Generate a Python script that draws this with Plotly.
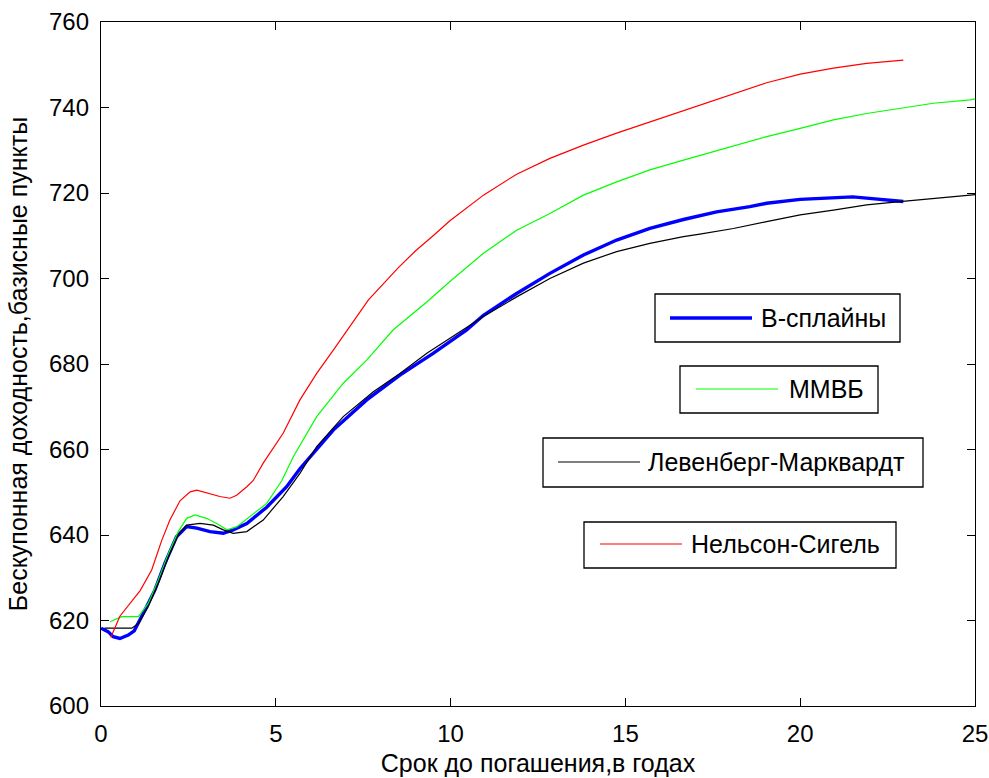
import plotly.graph_objects as go

# Бескупонная доходность (базисные пункты) по сроку до погашения (годы)
bspline_t = [0.0, 0.2, 0.35, 0.54, 0.78, 0.95, 1.21, 1.54, 1.83, 2.16, 2.45, 2.74,
             3.12, 3.5, 3.78, 4.17, 4.74, 5.31, 5.69, 6.65, 7.6, 8.55, 9.5, 10.46,
             10.94, 11.89, 12.84, 13.8, 14.75, 15.7, 16.66, 17.61, 18.56, 19.04,
             20.0, 20.95, 21.5, 21.9, 22.95]
bspline_v = [618.2, 617.4, 616.2, 615.8, 616.6, 617.6, 621.7, 627.1, 633.4, 639.6,
             642.0, 641.6, 640.8, 640.4, 641.2, 642.7, 646.5, 651.3, 655.5, 664.6,
             671.6, 677.4, 682.5, 688.0, 691.4, 696.5, 701.2, 705.5, 709.0, 711.7,
             713.8, 715.6, 716.8, 717.6, 718.5, 719.0, 719.1, 718.8, 718.0]

micex_t = [0.26, 0.59, 1.07, 1.35, 1.64, 1.93, 2.21, 2.45, 2.69, 3.02, 3.31, 3.6,
           3.88, 4.26, 4.74, 5.17, 5.5, 6.17, 6.93, 7.6, 8.36, 9.32, 9.98, 10.94,
           11.89, 12.84, 13.8, 14.75, 15.7, 16.66, 17.61, 18.56, 19.04, 20.0,
           20.95, 21.9, 22.85, 23.81, 24.86, 25.0]
micex_v = [619.7, 620.9, 620.9, 624.0, 629.5, 635.7, 640.8, 643.9, 644.7, 643.9,
           642.7, 641.2, 641.9, 644.3, 647.4, 652.7, 658.3, 667.7, 675.5, 680.9,
           688.0, 694.5, 699.3, 705.9, 711.3, 715.2, 719.5, 722.6, 725.4, 727.7,
           729.9, 732.1, 733.2, 735.1, 737.1, 738.6, 739.8, 741.0, 741.8, 742.0]

lm_t = [0.1, 0.88, 1.07, 1.35, 1.64, 1.93, 2.21, 2.45, 2.83, 3.21, 3.5, 3.78, 4.17,
        4.64, 5.21, 5.69, 6.17, 6.93, 7.79, 8.55, 9.32, 9.98, 10.94, 11.89, 12.84,
        13.8, 14.75, 15.7, 16.66, 17.13, 18.09, 19.04, 20.0, 20.95, 21.9, 22.85,
        23.81, 24.86, 25.0]
lm_v = [618.2, 618.2, 619.3, 623.2, 628.7, 634.9, 640.0, 642.3, 642.7, 642.3,
        641.2, 640.4, 640.8, 643.5, 649.0, 654.4, 660.7, 667.7, 673.5, 677.8,
        682.5, 686.0, 691.1, 695.7, 700.0, 703.6, 706.3, 708.2, 709.8, 710.4,
        711.7, 713.3, 714.9, 716.0, 717.2, 718.0, 718.8, 719.5, 719.6]

ns_t = [0.28, 0.54, 1.12, 1.45, 1.74, 1.97, 2.26, 2.55, 2.74, 3.06, 3.4, 3.69,
        3.88, 4.17, 4.35, 4.64, 5.21, 5.69, 6.17, 6.65, 7.12, 7.65, 8.5, 9.0, 9.5,
        9.98, 10.94, 11.89, 12.84, 13.8, 14.75, 15.7, 16.66, 17.13, 18.09, 19.04,
        20.0, 20.95, 21.9, 22.95]
ns_v = [616.0, 621.0, 627.0, 631.8, 638.8, 643.5, 648.0, 650.1, 650.5, 649.8,
        649.0, 648.6, 649.3, 651.3, 652.7, 656.8, 663.8, 671.6, 677.8, 683.3,
        688.7, 695.0, 702.5, 706.5, 710.0, 713.5, 719.5, 724.4, 728.1, 731.2,
        734.0, 736.6, 739.3, 740.6, 743.2, 745.8, 747.8, 749.2, 750.3, 751.1]

series_names = ["B-сплайны", "ММВБ", "Левенберг-Марквардт", "Нельсон-Сигель"]
series_colors = ["#0000FF", "#00FF00", "#000000", "#FF0000"]
series_widths = [3.4, 1.2, 1.2, 1.2]
series_t = [bspline_t, micex_t, lm_t, ns_t]
series_v = [bspline_v, micex_v, lm_v, ns_v]

x_ticks = [0, 5, 10, 15, 20, 25]
y_ticks = [600, 620, 640, 660, 680, 700, 720, 740, 760]

FONT = "Liberation Sans, Arial, sans-serif"

fig = go.Figure()
for t, v, name, color, w in zip(series_t, series_v, series_names, series_colors, series_widths):
    fig.add_trace(go.Scatter(x=t, y=v, mode="lines", name=name,
                             line=dict(color=color, width=w), showlegend=False))

# Plot area in pixels, used to place the separate legend boxes
W, H = 989, 778
L, R, T, B = 101, 14, 22, 72
pw, ph = W - L - R, H - T - B


def px(x):
    return (x - L) / pw


def py(y):
    return (H - B - y) / ph


# Each legend entry sits in its own framed box:
# (box left, box top, box right, box bottom, line start, line end, line y, text x)
legend_boxes = [
    (655, 294, 900, 342, 670, 752, 318, 759),
    (680, 366, 878, 413, 696, 778, 389, 787),
    (543, 438, 923, 487, 558, 640, 462, 646),
    (584, 522, 896, 568, 600, 682, 544, 689),
]

shapes = []
annotations = []
for (bx0, by0, bx1, by1, lx0, lx1, ly, tx), name, color, w in zip(
        legend_boxes, series_names, series_colors, series_widths):
    shapes.append(dict(type="rect", xref="paper", yref="paper",
                       x0=px(bx0), x1=px(bx1), y0=py(by1), y1=py(by0),
                       line=dict(color="black", width=1.3), fillcolor="white",
                       layer="above"))
    shapes.append(dict(type="line", xref="paper", yref="paper",
                       x0=px(lx0), x1=px(lx1), y0=py(ly), y1=py(ly),
                       line=dict(color=color, width=w), layer="above"))
    annotations.append(dict(xref="paper", yref="paper", x=px(tx), y=py(ly),
                            text=name, showarrow=False, xanchor="left",
                            yanchor="middle",
                            font=dict(family=FONT, size=25, color="black")))

axis_common = dict(showline=True, linecolor="black", linewidth=1.3, mirror="ticks",
                   ticks="inside", ticklen=8, tickwidth=1.3, tickcolor="black",
                   showgrid=False, zeroline=False,
                   tickfont=dict(family=FONT, size=24, color="black"))

fig.update_layout(
    width=W, height=H,
    margin=dict(l=L, r=R, t=T, b=B, pad=0),
    paper_bgcolor="white", plot_bgcolor="white",
    shapes=shapes, annotations=annotations,
    xaxis=dict(range=[0, 25], tickvals=x_ticks, ticklabelstandoff=6,
               title=dict(text="Срок до погашения,в годах", standoff=8,
                          font=dict(family=FONT, size=25, color="black")),
               automargin=False, **axis_common),
    yaxis=dict(range=[600, 760], tickvals=y_ticks, ticklabelstandoff=6,
               title=dict(text="Бескупонная доходность,базисные пункты", standoff=14,
                          font=dict(family=FONT, size=25, color="black")),
               automargin=False, **axis_common),
)

fig.write_html("out.html")
